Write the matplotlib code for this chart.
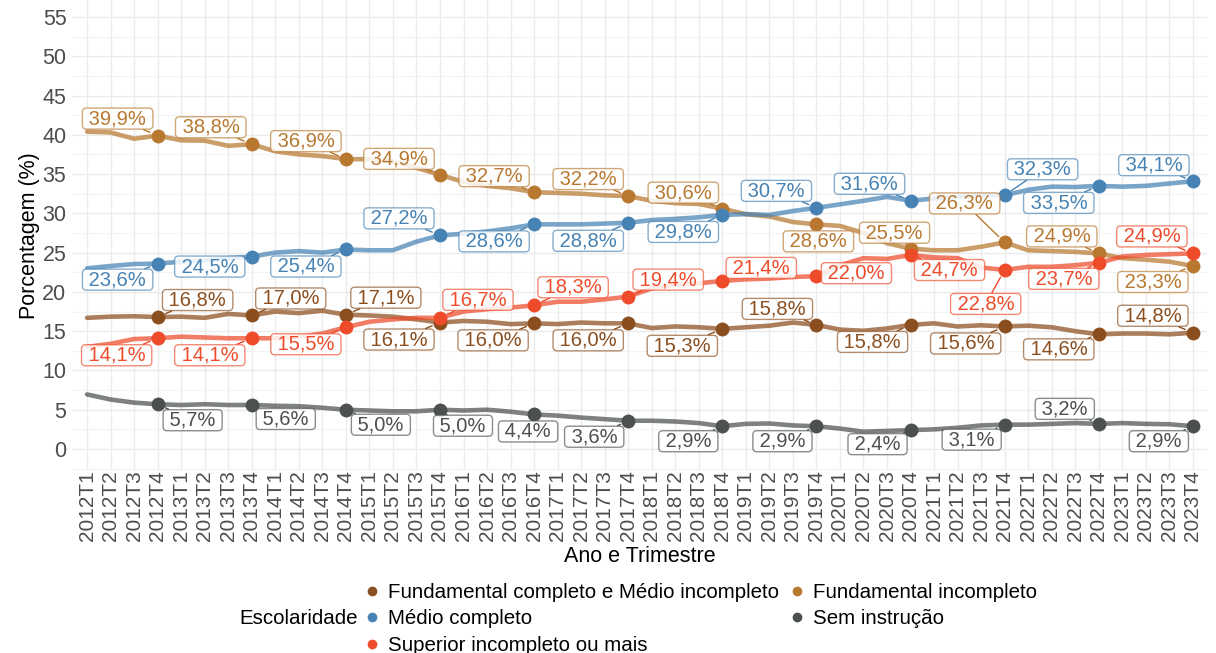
import numpy as np
import matplotlib
matplotlib.use("Agg")
import matplotlib.pyplot as plt
from matplotlib.lines import Line2D

plt.rcParams['font.family'] = ['Liberation Sans', 'DejaVu Sans']

# quarters 2012T1 .. 2023T4
anos = list(range(2012, 2024))
trimestres = ["%dT%d" % (a, t) for a in anos for t in range(1, 5)]

fund_completo = [16.7, 16.85, 16.9, 16.8, 16.85, 16.7, 17.2, 17.0, 17.5, 17.3, 17.6, 17.1,
                 17.0, 16.85, 16.5, 16.1, 16.3, 16.2, 15.9, 16.0, 15.9, 16.1, 16.0, 16.0,
                 15.4, 15.6, 15.5, 15.3, 15.5, 15.7, 16.1, 15.8, 15.2, 15.05, 15.35, 15.8,
                 16.0, 15.6, 15.75, 15.6, 15.7, 15.5, 15.0, 14.6, 14.7, 14.7, 14.6, 14.8]
fund_incompleto = [40.4, 40.3, 39.5, 39.9, 39.3, 39.25, 38.6, 38.8, 37.9, 37.5, 37.3, 36.9,
                   36.9, 36.6, 35.8, 34.9, 34.0, 33.5, 33.2, 32.7, 32.6, 32.5, 32.3, 32.2,
                   31.6, 31.3, 31.2, 30.6, 29.9, 29.6, 28.9, 28.6, 28.4, 27.5, 26.2, 25.5,
                   25.3, 25.3, 25.75, 26.3, 25.3, 25.2, 25.1, 24.9, 24.3, 24.1, 23.85, 23.3]
medio_completo = [23.0, 23.3, 23.55, 23.6, 23.85, 24.0, 24.3, 24.5, 25.0, 25.2, 25.0, 25.4,
                  25.3, 25.3, 26.4, 27.2, 27.4, 27.7, 28.1, 28.6, 28.6, 28.6, 28.7, 28.8,
                  29.15, 29.3, 29.5, 29.8, 29.9, 29.8, 30.3, 30.7, 31.15, 31.6, 32.1, 31.6,
                  31.9, 32.1, 32.3, 32.3, 33.0, 33.4, 33.35, 33.5, 33.4, 33.5, 33.8, 34.1]
sem_instrucao = [6.95, 6.3, 5.9, 5.7, 5.6, 5.7, 5.6, 5.6, 5.5, 5.45, 5.25, 5.0,
                 4.9, 4.8, 4.8, 5.0, 4.9, 5.0, 4.75, 4.4, 4.25, 4.0, 3.8, 3.6,
                 3.6, 3.5, 3.3, 2.9, 3.2, 3.25, 3.0, 2.9, 2.6, 2.2, 2.3, 2.4,
                 2.5, 2.7, 3.0, 3.1, 3.1, 3.2, 3.3, 3.2, 3.3, 3.2, 3.15, 2.9]
superior = [13.0, 13.4, 14.0, 14.1, 14.3, 14.2, 14.1, 14.1, 14.1, 14.3, 14.7, 15.5,
            16.2, 16.5, 16.7, 16.7, 17.5, 17.8, 18.0, 18.3, 18.75, 18.75, 19.05, 19.4,
            20.45, 20.9, 21.1, 21.4, 21.6, 21.7, 21.9, 22.0, 23.4, 24.3, 24.2, 24.7,
            24.4, 24.3, 23.1, 22.8, 23.2, 23.2, 23.4, 23.7, 24.5, 24.7, 24.8, 24.9]

series = [
    ("Fundamental completo e Médio incompleto", fund_completo, "#8B4E1E"),
    ("Fundamental incompleto", fund_incompleto, "#B8782F"),
    ("Médio completo", medio_completo, "#4682B4"),
    ("Sem instrução", sem_instrucao, "#4D5050"),
    ("Superior incompleto ou mais", superior, "#EE4B2B"),
]

# label offsets (pixels) for each T4 point
offsets = {
    "Fundamental completo e Médio incompleto": [(40, 17), (39, 17), (40, 17), (-41, -17), (-41, -17), (-40, -17),
                                                (-40, -17), (-39, 16), (-38, -17), (-39, -17), (-40, -15), (-40, 17)],
    "Fundamental incompleto": [(-40, 17), (-41, 17), (-40, 18), (-41, 16), (-40, 16), (-40, 17),
                               (-39, 16), (2, -17), (-16, 16), (-40, 39), (-37, 17), (-40, -16)],
    "Médio completo": [(-40, -16), (-42, -10), (-40, -17), (-41, 17), (-40, -17), (-40, -18),
                       (-39, -17), (-40, 17), (-41, 17), (38, 26), (-40, -17), (-39, 16)],
    "Sem instrução": [(35, -16), (34, -14), (35, -15), (23, -16), (-6, -17), (-34, -16),
                      (-34, -15), (-34, -15), (-33, -14), (-33, -15), (-34, 15), (-34, -15)],
    "Superior incompleto ou mais": [(-41, -17), (-42, -17), (-40, -17), (38, 18), (39, 18), (40, 17),
                                    (39, 13), (40, 3), (39, -15), (-19, -34), (-35, -16), (-41, 17)],
}

W, H = 1216, 653
fig = plt.figure(figsize=(W / 100, H / 100), dpi=100)
ax = fig.add_axes([72 / W, (H - 470.6) / H, (1207 - 72) / W, (470.6 + 4.6) / H])

x = np.arange(len(trimestres))
t4 = x[3::4]

for nome, vals, cor in series:
    ax.plot(x, vals, color=cor, lw=3.3, alpha=0.72, solid_joinstyle='round',
            solid_capstyle='round', zorder=2)
for nome, vals, cor in series:
    vals = np.array(vals)
    ax.plot(t4, vals[3::4], 'o', color=cor, ms=10, mec='none', zorder=3)

for nome, vals, cor in series:
    vals = np.array(vals)
    for (dx, dy), xi, v in zip(offsets[nome], t4, vals[3::4]):
        txt = " " + ("%.1f" % v).replace(".", ",") + "% "
        ax.annotate(txt, xy=(xi, v), xytext=(dx, dy), textcoords='offset pixels',
                    ha='center', va='center', fontsize=14.5, color=cor, zorder=5,
                    bbox=dict(boxstyle='round,pad=0.05,rounding_size=0.2', fc=(1, 1, 1, 0.85),
                              ec=matplotlib.colors.to_rgba(cor, 0.65), lw=1),
                    arrowprops=dict(arrowstyle='-', color=cor, lw=1, shrinkA=0, shrinkB=6))

ax.set_xlim(-0.64, 47.6)
ax.set_ylim(-2.75, 57.75)
ax.set_xticks(x)
ax.set_xticklabels(trimestres, rotation=90, fontsize=15, color='#4D4D4D')
ax.set_yticks(np.arange(0, 56, 5))
ax.set_yticks(np.arange(-2.5, 58, 5), minor=True)
ax.tick_params(axis='y', labelsize=15.5, labelcolor='#4D4D4D', length=0, pad=4)
ax.tick_params(axis='x', length=0, pad=0)
ax.tick_params(which='minor', length=0)
ax.grid(which='major', color='#EBEBEB', lw=1.0)
ax.grid(which='minor', axis='y', color='#F3F3F3', lw=0.8)
ax.set_axisbelow(True)
for s in ax.spines.values():
    s.set_visible(False)

fig.text(639.5 / W, 1 - 557 / H, "Ano e Trimestre", ha='center', va='center', fontsize=15.5)
fig.text(30 / W, 1 - 236 / H, "Porcentagem (%)", ha='center', va='center', rotation=90, fontsize=15.5)

# legend filled by row as in the original: reorder for column-major layout
ordem = [0, 2, 4, 1, 3]
handles = [Line2D([], [], ls='none', marker='o', ms=7, color=series[i][2], mec='none') for i in ordem]
nomes = [series[i][0] for i in ordem]
fig.legend(handles, nomes, ncol=2, frameon=False, fontsize=14.8,
           loc='center left', bbox_to_anchor=(364 / W, 1 - 619 / H), borderpad=0, borderaxespad=0,
           handlelength=0.8, handletextpad=0.35, columnspacing=0.5, labelspacing=0.36)
fig.text(358 / W, 1 - 619 / H, "Escolaridade", ha='right', va='center', fontsize=14.8)

fig.savefig("out.png", dpi=100)
